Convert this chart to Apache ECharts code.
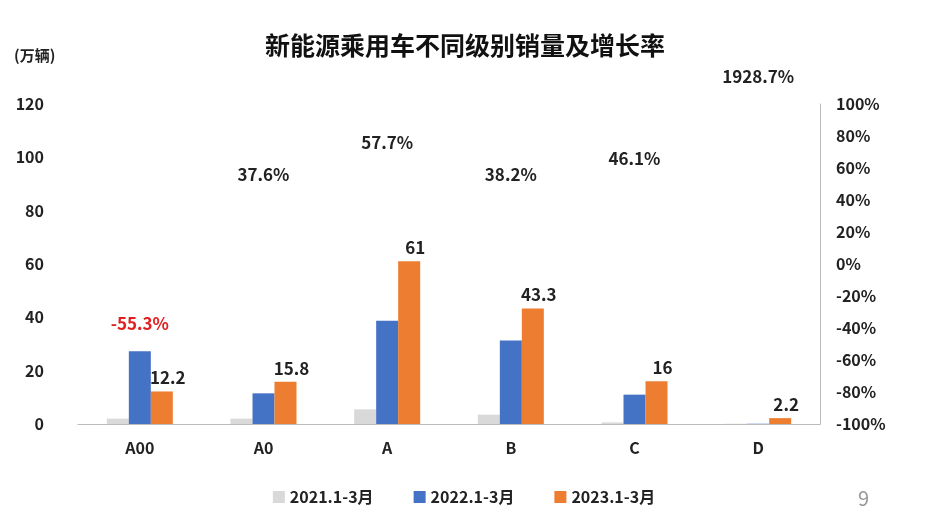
<!DOCTYPE html>
<html><head><meta charset="utf-8">
<script src="https://cdn.jsdelivr.net/npm/echarts@6/dist/echarts.min.js"></script>
<style>html,body{margin:0;padding:0;background:#fff}#c{width:928px;height:526px}</style>
</head><body><div id="c"></div>
<script>
const categories = ['A00','A0','A','B','C','D'];
const sales2021 = [2.0, 2.0, 5.5, 3.5, 0.6, 0.1];
const sales2022 = [27.3, 11.5, 38.7, 31.3, 11.0, 0.1];
const sales2023 = [12.2, 15.8, 61, 43.3, 16, 2.2];
const growthRates = ['-55.3%','37.6%','57.7%','38.2%','46.1%','1928.7%'];
const growthLabelHeights = [-37, 56, 76, 56, 66, 117];
const leftTicks = [0,20,40,60,80,100,120];
const rightTicks = [-100,-80,-60,-40,-20,0,20,40,60,80,100];

const font = 'Noto Sans CJK SC';
const chart = echarts.init(document.getElementById('c'));
chart.setOption({
  animation:false,
  textStyle:{fontFamily:font},
  title:{text:'新能源乘用车不同级别销量及增长率',left:460,top:28,textAlign:'center',
    textStyle:{fontSize:25,fontWeight:'bold',color:'#111',fontFamily:font}},
  graphic:[
    {type:'text',left:14,top:48,style:{text:'(万辆)',fontSize:15,fontWeight:'bold',fill:'#222',fontFamily:font}},
    {type:'text',left:858,top:488,style:{text:'9',fontSize:20,fill:'#999',fontFamily:font}}
  ],
  legend:{bottom:16,left:'center',itemWidth:12,itemHeight:12,itemGap:40,icon:'rect',
    textStyle:{fontSize:16,fontWeight:'bold',color:'#222'},
    data:['2021.1-3月','2022.1-3月','2023.1-3月']},
  grid:{left:78,right:108,top:104,bottom:102},
  xAxis:{type:'category',data:categories,
    axisLine:{lineStyle:{color:'#bbb'}},axisTick:{show:false},
    axisLabel:{fontSize:16,fontWeight:'bold',color:'#222',margin:16}},
  yAxis:[
    {type:'value',min:0,max:120,interval:20,splitLine:{show:false},
      axisLabel:{fontSize:16,fontWeight:'bold',color:'#222',margin:34,
        formatter:v=>leftTicks.includes(v)?String(v):''}},
    {type:'value',min:-100,max:100,interval:20,splitLine:{show:false},
      axisLine:{show:true,lineStyle:{color:'#bbb'}},
      axisLabel:{fontSize:16,fontWeight:'bold',color:'#222',margin:16,
        formatter:v=>rightTicks.includes(v)?v+'%':''}}
  ],
  series:[
    {name:'2021.1-3月',type:'bar',data:sales2021,barWidth:22,barGap:'0%',itemStyle:{color:'#d9d9d9'}},
    {name:'2022.1-3月',type:'bar',data:sales2022,barWidth:22,barGap:'0%',itemStyle:{color:'#4472c4'}},
    {name:'2023.1-3月',type:'bar',data:sales2023,barWidth:22,barGap:'0%',itemStyle:{color:'#ed7d31'},
      label:{show:true,position:'top',fontSize:17,fontWeight:'bold',color:'#222',offset:[6,0]}},
    {name:'增长率',type:'scatter',yAxisIndex:1,symbol:'rect',symbolSize:1,clip:false,z:10,
      itemStyle:{color:'rgba(0,0,0,0)'},
      data:growthLabelHeights.map((h,i)=>({value:h,
        label:{show:true,position:'inside',formatter:growthRates[i],fontSize:17,fontWeight:'bold',
          opacity:1,color:growthRates[i].startsWith('-')?'#e02020':'#222'}}))}
  ]
});
</script></body></html>
